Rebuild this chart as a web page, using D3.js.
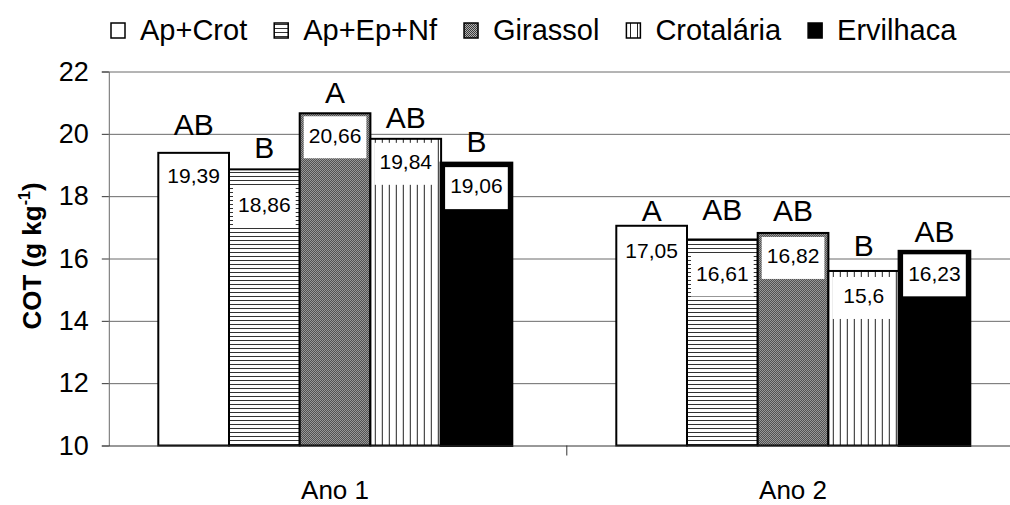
<!DOCTYPE html>
<html><head><meta charset="utf-8">
<script src="https://cdn.jsdelivr.net/npm/d3@7"></script>
<style>body{margin:0;background:#fff}svg{display:block;font-family:"Liberation Sans",Arial,sans-serif}</style>
</head><body><svg id="c" width="1010" height="505"></svg>
<script>
// ---- data ----
const categories = ["Ano 1", "Ano 2"];
const series = ["Ap+Crot", "Ap+Ep+Nf", "Girassol", "Crotalária", "Ervilhaca"];
const ano1 = [19.39, 18.86, 20.66, 19.84, 19.06];
const ano2 = [17.05, 16.61, 16.82, 15.6, 16.23];
const letters1 = ["AB", "B", "A", "AB", "B"];
const letters2 = ["A", "AB", "AB", "B", "AB"];
const yTicks = [10, 12, 14, 16, 18, 20, 22];

// ---- layout (not data) ----
const labelDrop = [[23, 35, 22, 23, 23], [25, 34, 23, 25, 22]];
const letterGap = [[18, 11, 10, 11, 11], [5, 19, 12, 15, 9]];

const values = [ano1, ano2];
const letters = [letters1, letters2];

const svg = d3.select("#c");
const defs = svg.append("defs");
// horizontal lines
const ph = defs.append("pattern").attr("id", "hl").attr("patternUnits", "userSpaceOnUse").attr("width", 8).attr("height", 4);
ph.append("rect").attr("width", 8).attr("height", 4).attr("fill", "#fff");
ph.append("rect").attr("y", 0).attr("width", 8).attr("height", 1).attr("fill", "#333");
// vertical lines
const pv = defs.append("pattern").attr("id", "vl").attr("patternUnits", "userSpaceOnUse").attr("width", 7).attr("height", 8);
pv.append("rect").attr("width", 7).attr("height", 8).attr("fill", "#fff");
pv.append("rect").attr("x", 0).attr("width", 1).attr("height", 8).attr("fill", "#222");
// dotted gray
const pd = defs.append("pattern").attr("id", "dt").attr("patternUnits", "userSpaceOnUse").attr("width", 2).attr("height", 2);
pd.append("rect").attr("width", 2).attr("height", 2).attr("fill", "#b0b0b0");
pd.append("rect").attr("width", 1).attr("height", 1).attr("fill", "#3a3a3a");
pd.append("rect").attr("x", 1).attr("y", 1).attr("width", 1).attr("height", 1).attr("fill", "#3a3a3a");

const fills = ["#fff", "url(#hl)", "url(#dt)", "url(#vl)", "#000"];
const strokeW = [2, 2, 2, 2, 3];

const plotLeft = 108.8, catW = 458, plotTop = 71.5, plotBottom = 445.5;
const x0 = d3.scaleBand().domain(categories).range([plotLeft, plotLeft + catW * categories.length]).padding(0);
const x1 = d3.scaleBand().domain(series).range([49.5, 49.5 + 70.7 * series.length]).padding(0);
const y = d3.scaleLinear().domain([10, 22]).range([plotBottom, plotTop]);

// gridlines
svg.append("g").selectAll("line").data(yTicks.filter(t => t > 10)).join("line")
  .attr("x1", plotLeft).attr("x2", 1010).attr("y1", d => y(d) + 0.5).attr("y2", d => y(d) + 0.5)
  .attr("stroke", "#6a6a6a").attr("stroke-width", 1);

// y axis
const ya = svg.append("g").attr("transform", `translate(${plotLeft},0)`)
  .call(d3.axisLeft(y).tickValues(yTicks).tickSize(7).tickPadding(13).tickFormat(d3.format("d")));
ya.select(".domain").attr("stroke", "#6a6a6a");
ya.selectAll(".tick line").attr("stroke", "#333");
ya.selectAll(".tick text").attr("font-size", 27).attr("fill", "#000").attr("font-family", "Liberation Sans, Arial, sans-serif");

// bars
categories.forEach((c, ci) => {
  const g = svg.append("g").attr("transform", `translate(${x0(c)},0)`);
  series.forEach((s, si) => {
    const v = values[ci][si];
    const bx = x1(s), bw = x1.bandwidth(), by = y(v);
    g.append("rect").attr("x", bx).attr("y", by).attr("width", bw).attr("height", plotBottom - by)
      .attr("fill", fills[si]).attr("stroke", "#000").attr("stroke-width", strokeW[si]);
    const cy = by + labelDrop[ci][si];
    g.append("rect").attr("x", bx + 4).attr("y", cy - 19).attr("width", bw - 8).attr("height", 42).attr("fill", "#fff");
    g.append("text").attr("x", bx + bw / 2).attr("y", cy).attr("dy", "0.35em").attr("text-anchor", "middle")
      .attr("font-size", 21).text(String(v).replace(".", ","));
    g.append("text").attr("x", bx + bw / 2).attr("y", by - letterGap[ci][si]).attr("text-anchor", "middle")
      .attr("font-size", 30).text(letters[ci][si]);
  });
});

// x axis baseline
svg.append("line").attr("x1", plotLeft).attr("x2", 1010).attr("y1", plotBottom + 0.5).attr("y2", plotBottom + 0.5).attr("stroke", "#333");
svg.append("g").selectAll("line").data(categories.slice(1)).join("line")
  .attr("x1", d => x0(d)).attr("x2", d => x0(d)).attr("y1", plotBottom).attr("y2", plotBottom + 10).attr("stroke", "#333");
svg.append("g").selectAll("text").data(categories).join("text")
  .attr("x", d => x0(d) + x1.range()[0] + (x1.range()[1] - x1.range()[0]) / 2).attr("y", 499)
  .attr("text-anchor", "middle").attr("font-size", 26).text(d => d);

// y title
const yt = svg.append("text").attr("transform", "translate(41,256) rotate(-90)")
  .attr("text-anchor", "middle").attr("font-size", 26).attr("font-weight", "bold");
yt.append("tspan").text("COT (g kg");
yt.append("tspan").attr("font-size", 16).attr("dy", -11).text("-1");
yt.append("tspan").attr("dy", 11).text(")");

// legend
const lg = svg.append("g");
let lx = 111;
series.forEach((s, si) => {
  lg.append("rect").attr("x", lx).attr("y", 23).attr("width", 14).attr("height", 15)
    .attr("fill", fills[si]).attr("stroke", "#000").attr("stroke-width", 1.5);
  const t = lg.append("text").attr("x", lx + 29).attr("y", 40).attr("font-size", 29).text(s);
  lx += 29 + t.node().getComputedTextLength() + 27;
});
</script></body></html>
